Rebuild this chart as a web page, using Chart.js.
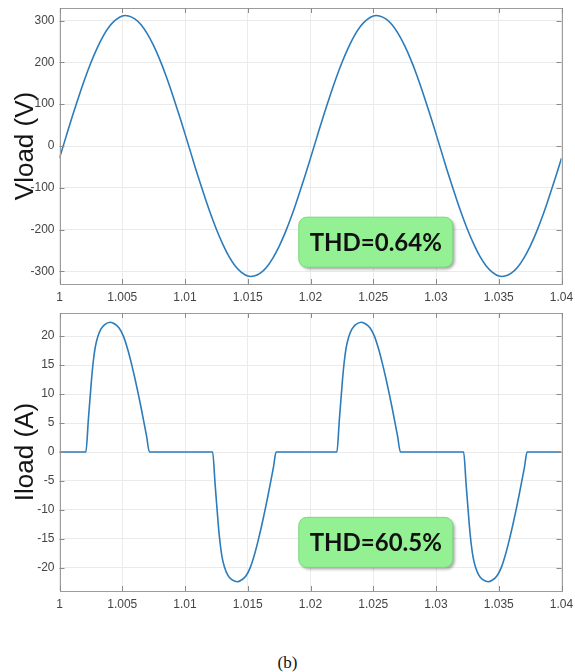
<!DOCTYPE html>
<html>
<head>
<meta charset="utf-8">
<script src="https://cdn.jsdelivr.net/npm/chart.js@4/dist/chart.umd.min.js"></script>
<style>
  body { margin: 0; background: #fff; width: 575px; height: 672px; position: relative; overflow: hidden; }
  canvas { position: absolute; left: 0; }
  #vChart { top: 0; }
  #iChart { top: 305px; }
  #caption { position: absolute; left: 0; width: 575px; top: 653px; text-align: center;
             font-family: "Liberation Serif", "Times New Roman", serif; font-size: 17px; color: #111; }
</style>
</head>
<body>
<canvas id="vChart" width="575" height="310"></canvas>
<canvas id="iChart" width="575" height="312"></canvas>
<div id="caption">(b)</div>

<script>
// --- Dados ---

const xTicks = [1, 1.005, 1.01, 1.015, 1.02, 1.025, 1.03, 1.035, 1.04];
const xTickLabels = ['1', '1.005', '1.01', '1.015', '1.02', '1.025', '1.03', '1.035', '1.04'];

const vTicks = [-300, -200, -100, 0, 100, 200, 300];
const iTicks = [-20, -15, -10, -5, 0, 5, 10, 15, 20];

// tensão na carga (V)
const vTime = [
  1, 1.0005, 1.001, 1.0015, 1.002, 1.0025, 1.003, 1.0035, 1.004, 1.0045,
  1.005, 1.0055, 1.006, 1.0065, 1.007, 1.0075, 1.008, 1.0085, 1.009, 1.0095,
  1.01, 1.0105, 1.011, 1.0115, 1.012, 1.0125, 1.013, 1.0135, 1.014, 1.0145,
  1.015, 1.0155, 1.016, 1.0165, 1.017, 1.0175, 1.018, 1.0185, 1.019, 1.0195,
  1.02, 1.0205, 1.021, 1.0215, 1.022, 1.0225, 1.023, 1.0235, 1.024, 1.0245,
  1.025, 1.0255, 1.026, 1.0265, 1.027, 1.0275, 1.028, 1.0285, 1.029, 1.0295,
  1.03, 1.0305, 1.031, 1.0315, 1.032, 1.0325, 1.033, 1.0335, 1.034, 1.0345,
  1.035, 1.0355, 1.036, 1.0365, 1.037, 1.0375, 1.038, 1.0385, 1.039, 1.0395,
  1.04
];
const vLoad = [
  -29, 20, 69, 115, 159, 199, 234, 264, 287, 302,
  311, 311, 304, 290, 268, 240, 206, 167, 123, 77,
  29, -20, -69, -115, -159, -199, -234, -264, -287, -302,
  -311, -311, -304, -290, -268, -240, -206, -167, -123, -77,
  -29, 20, 69, 115, 159, 199, 234, 264, 287, 302,
  311, 311, 304, 290, 268, 240, 206, 167, 123, 77,
  29, -20, -69, -115, -159, -199, -234, -264, -287, -302,
  -311, -311, -304, -290, -268, -240, -206, -167, -123, -77,
  -29
];

// corrente na carga (A)
const iTime = [
  1,
  1.0021, 1.0023, 1.00255, 1.0027, 1.00285, 1.00305, 1.0033, 1.0036, 1.00405, 1.0044,
  1.00475, 1.00509, 1.00545, 1.00576, 1.00602, 1.00628, 1.00651, 1.00674, 1.00695, 1.00716,
  1.0122, 1.0124, 1.01265, 1.0128, 1.01295, 1.01315, 1.0134, 1.0137, 1.01415, 1.0145,
  1.01485, 1.01519, 1.01555, 1.01586, 1.01612, 1.01638, 1.01661, 1.01684, 1.01705, 1.01726,
  1.0221, 1.0223, 1.02255, 1.0227, 1.02285, 1.02305, 1.0233, 1.0236, 1.02405, 1.0244,
  1.02475, 1.02509, 1.02545, 1.02576, 1.02602, 1.02628, 1.02651, 1.02674, 1.02695, 1.02716,
  1.0322, 1.0324, 1.03265, 1.0328, 1.03295, 1.03315, 1.0334, 1.0337, 1.03415, 1.0345,
  1.03485, 1.03519, 1.03555, 1.03586, 1.03612, 1.03638, 1.03661, 1.03684, 1.03705, 1.03726,
  1.04
];
const iLoad = [
  0,
  0, 5.6, 12.5, 15.8, 18.1, 19.9, 21.2, 22.0, 22.4, 22.1,
  21.4, 20, 17.6, 15, 12.6, 10, 7.55, 5, 2.6, 0,
  0, -5.6, -12.5, -15.8, -18.1, -19.9, -21.2, -22.0, -22.4, -22.1,
  -21.4, -20, -17.6, -15, -12.6, -10, -7.55, -5, -2.6, 0,
  0, 5.6, 12.5, 15.8, 18.1, 19.9, 21.2, 22.0, 22.4, 22.1,
  21.4, 20, 17.6, 15, 12.6, 10, 7.55, 5, 2.6, 0,
  0, -5.6, -12.5, -15.8, -18.1, -19.9, -21.2, -22.0, -22.4, -22.1,
  -21.4, -20, -17.6, -15, -12.6, -10, -7.55, -5, -2.6, 0,
  0
];

// caixas de THD (posição em coordenadas dos dados)
const vThdLabel = 'THD=0.64%';
const vThdPos = [1.0252, -230];
const iThdLabel = 'THD=60.5%';
const iThdPos = [1.0252, -15.6];

// --- Plugin: moldura estilo MATLAB com marcas para dentro + caixa de THD ---

const matlabBox = {
  id: 'matlabBox',
  afterDatasetsDraw(chart, args, opts) {
    const ctx = chart.ctx;
    const { left, right, top, bottom } = chart.chartArea;
    const xs = chart.scales.x;
    const ys = chart.scales.y;
    ctx.save();
    ctx.strokeStyle = '#9c9c9c';
    ctx.lineWidth = 1;
    ctx.strokeRect(Math.round(left) + 0.5, Math.round(top) + 0.5,
                   Math.round(right - left), Math.round(bottom - top));
    ctx.strokeStyle = '#8a8a8a';
    ctx.beginPath();
    xs.ticks.forEach(t => {
      const px = Math.round(xs.getPixelForValue(t.value)) + 0.5;
      ctx.moveTo(px, bottom); ctx.lineTo(px, bottom - 5);
      ctx.moveTo(px, top); ctx.lineTo(px, top + 5);
    });
    ys.ticks.forEach(t => {
      const py = Math.round(ys.getPixelForValue(t.value)) + 0.5;
      ctx.moveTo(left, py); ctx.lineTo(left + 5, py);
      ctx.moveTo(right, py); ctx.lineTo(right - 5, py);
    });
    ctx.stroke();

    // caixa verde
    const cx = xs.getPixelForValue(opts.pos[0]);
    const cy = ys.getPixelForValue(opts.pos[1]);
    const w = 154, h = 50;
    ctx.shadowColor = 'rgba(0,0,0,0.35)';
    ctx.shadowOffsetX = 2;
    ctx.shadowOffsetY = 2;
    ctx.shadowBlur = 3;
    ctx.fillStyle = '#93f093';
    ctx.beginPath();
    ctx.roundRect(cx - w / 2, cy - h / 2, w, h, 8);
    ctx.fill();
    ctx.shadowColor = 'transparent';
    ctx.strokeStyle = '#7fd67f';
    ctx.stroke();
    ctx.fillStyle = '#111';
    ctx.font = 'bold 24px Lato, "Liberation Sans", sans-serif';
    ctx.textAlign = 'center';
    ctx.textBaseline = 'middle';
    ctx.fillText(opts.label, cx, cy + 1);
    ctx.restore();
  }
};

// --- Criação dos gráficos ---

function makeChart(canvasId, times, values, yMin, yMax, yTicks, yTitle, interp, thdLabel, thdPos) {
  const points = times.map((t, i) => ({ x: t, y: values[i] }));
  return new Chart(document.getElementById(canvasId), {
    type: 'line',
    data: {
      datasets: [{
        data: points,
        borderColor: '#2c7cbb',
        borderWidth: 1.6,
        pointRadius: 0,
        fill: false,
        tension: interp === 'monotone' ? 0 : 0.4,
        cubicInterpolationMode: interp
      }]
    },
    options: {
      responsive: false,
      animation: false,
      devicePixelRatio: 1,
      layout: { padding: { top: 8, right: 13.5, bottom: 4, left: 0 } },
      plugins: {
        legend: { display: false },
        tooltip: { enabled: false },
        matlabBox: { label: thdLabel, pos: thdPos }
      },
      scales: {
        x: {
          type: 'linear',
          min: 1,
          max: 1.04,
          afterBuildTicks: s => { s.ticks = xTicks.map(v => ({ value: v })); },
          afterFit: s => { s.height = 22; s.paddingLeft = 0; s.paddingRight = 0; },
          ticks: {
            padding: 6,
            color: '#444',
            font: { family: '"Liberation Sans", Arial, sans-serif', size: 12 },
            callback: (v, i) => xTickLabels[i]
          },
          grid: { color: '#ebebeb', drawTicks: false },
          border: { display: false }
        },
        y: {
          min: yMin,
          max: yMax,
          afterBuildTicks: s => { s.ticks = yTicks.map(v => ({ value: v })); },
          afterFit: s => { s.width = 59.5; s.paddingTop = 0; s.paddingBottom = 0; },
          ticks: {
            padding: 5,
            color: '#444',
            font: { family: '"Liberation Sans", Arial, sans-serif', size: 12 }
          },
          grid: { color: '#ebebeb', drawTicks: false },
          border: { display: false },
          title: {
            display: true,
            text: yTitle,
            color: '#151515',
            padding: { top: 10, bottom: 0 },
            font: { family: '"Liberation Sans", Arial, sans-serif', size: 26 }
          }
        }
      }
    },
    plugins: [matlabBox]
  });
}

makeChart('vChart', vTime, vLoad, -330, 330, vTicks, 'Vload (V)', 'default', vThdLabel, vThdPos);
makeChart('iChart', iTime, iLoad, -24, 24, iTicks, 'Iload (A)', 'monotone', iThdLabel, iThdPos);
</script>
</body>
</html>
